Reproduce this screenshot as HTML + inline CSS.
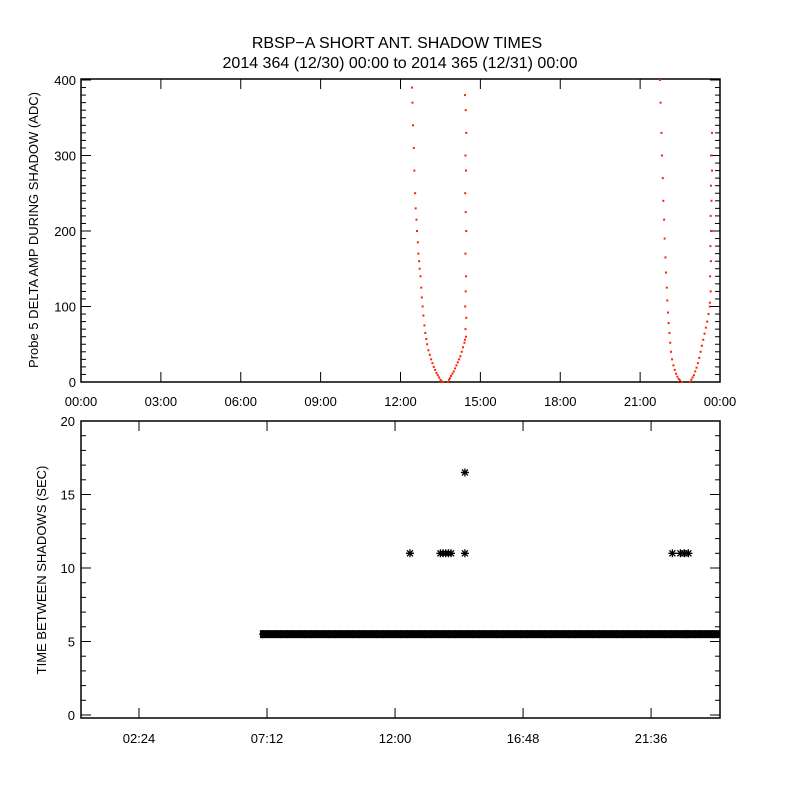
<!DOCTYPE html>
<html><head><meta charset="utf-8"><style>
body{margin:0;background:#fff}
svg text{font-family:"Liberation Sans",sans-serif;fill:#000}
</style></head><body>
<svg id="c" width="800" height="800" xmlns="http://www.w3.org/2000/svg">
<rect width="800" height="800" fill="#fff"/>
<text x="397" y="48" font-size="16" text-anchor="middle">RBSP−A SHORT ANT. SHADOW TIMES</text>
<text x="400" y="68" font-size="16" text-anchor="middle">2014 364 (12/30) 00:00 to 2014 365 (12/31) 00:00</text>
<g id="top"></g><g id="bot"></g>
</svg>
<script>
// ---- top panel data (hour, delta amp ADC) ----
const descA_h=[12.43,12.45,12.47,12.5,12.52,12.55,12.57,12.6,12.62,12.65,12.67,12.7,12.72,12.75,12.78,12.8,12.83,12.86,12.9,12.93,12.97,13.0,13.05,13.1,13.15,13.2,13.25,13.3,13.35,13.4,13.45,13.5,13.55,13.6];
const descA_v=[390,370,340,310,280,250,230,215,200,185,170,160,150,140,125,112,100,88,75,65,57,50,42,36,30,25,20,16,12,9,6,3,1,0];
const ascA_h=[13.78,13.82,13.86,13.9,13.95,14.0,14.05,14.1,14.15,14.2,14.25,14.3,14.35,14.4,14.42];
const ascA_v=[0,3,5,8,11,14,18,22,26,30,34,40,46,52,56];
const scatA_h=[14.42,14.45,14.47,14.44,14.46,14.43,14.45,14.47,14.44,14.46,14.45,14.43,14.47,14.44,14.46];
const scatA_v=[380,360,330,300,280,250,225,200,170,140,120,100,85,70,60];
const descB_h=[21.75,21.77,21.8,21.82,21.85,21.87,21.9,21.92,21.95,21.97,22.0,22.02,22.05,22.07,22.1,22.13,22.16,22.2,22.25,22.3,22.35,22.4,22.45,22.5,22.57];
const descB_v=[400,370,330,300,270,240,215,190,165,145,125,108,92,78,65,52,40,30,22,16,11,7,4,2,0];
const ascB_h=[22.87,22.92,22.97,23.02,23.07,23.12,23.17,23.22,23.27,23.32,23.37,23.42,23.47,23.52,23.57,23.62];
const ascB_v=[0,3,6,9,14,19,25,32,40,48,56,64,72,80,90,100];
const scatB_h=[23.62,23.65,23.63,23.66,23.64,23.67,23.65,23.68,23.66,23.7,23.68,23.7];
const scatB_v=[105,120,140,160,180,200,220,240,260,280,300,330];
// ---- bottom panel data ----
const runStart=[7.05,23.0];
const runEnd=[22.88,24.18];
const runValue=[5.5,5.5];
const outT=[12.56,13.7,13.8,13.9,14.0,14.1,14.62,14.62,22.4,22.7,22.85,23.0];
const outV=[11,11,11,11,11,11,11,16.5,11,11,11,11];
const topYTicks=[0,100,200,300,400];
const topXLabels=["00:00","03:00","06:00","09:00","12:00","15:00","18:00","21:00","00:00"];
const botYTicks=[0,5,10,15,20];
const botXLabels=["02:24","07:12","12:00","16:48","21:36"];
const botXHours=[2.4,7.2,12,16.8,21.6];

const NS="http://www.w3.org/2000/svg";
function el(p,t,a){const e=document.createElementNS(NS,t);for(const k in a)e.setAttribute(k,a[k]);p.appendChild(e);return e;}
const T=document.getElementById('top'),B=document.getElementById('bot');
// top axes
const tL=81,tR=720,tT=79,tB=382;
const tx=h=>tL+(tR-tL)*h/24, ty=v=>382-0.755*v;
let fr=el(T,'rect',{x:tL,y:tT,width:tR-tL,height:tB-tT,fill:'none',stroke:'#000','stroke-width':1.5});

for(let v=0;v<=400;v+=10){const y=ty(v);if(y<tT)continue;const L=v%100===0?10:5;
 el(T,'line',{x1:tL,x2:tL+L,y1:y,y2:y,stroke:'#000'});el(T,'line',{x1:tR,x2:tR-L,y1:y,y2:y,stroke:'#000'});}
topYTicks.forEach(v=>{const t=el(T,'text',{x:tL-5,y:ty(v)+5,'font-size':13,'text-anchor':'end'});t.textContent=v;
 });
topXLabels.forEach((s,i)=>{const x=tx(i*3);el(T,'line',{x1:x,x2:x,y1:tB,y2:tB-10,stroke:'#000'});el(T,'line',{x1:x,x2:x,y1:tT,y2:tT+10,stroke:'#000'});
 const t=el(T,'text',{x:x,y:406,'font-size':13,'text-anchor':'middle'});t.textContent=s;
 });
let yt=el(T,'text',{transform:'translate(38,230) rotate(-90)','font-size':13,'text-anchor':'middle'});yt.textContent='Probe 5 DELTA AMP DURING SHADOW (ADC)';

[[descA_h,descA_v],[ascA_h,ascA_v],[scatA_h,scatA_v],[descB_h,descB_v],[ascB_h,ascB_v],[scatB_h,scatB_v]].forEach(([H,V])=>{
 H.forEach((h,i)=>{const r=el(T,'rect',{x:tx(h)-1,y:ty(V[i])-1,width:2,height:2,fill:'#ff2000'});
 });});
// bottom axes
const bL=81,bR=720,bT=421,bB=718;
const bx=h=>75+26.67*h, by=v=>715-14.7*v;
fr=el(B,'rect',{x:bL,y:bT,width:bR-bL,height:bB-bT,fill:'none',stroke:'#000','stroke-width':1.5});

for(let v=0;v<=20;v++){const y=by(v);const L=v%5===0?10:5;
 el(B,'line',{x1:bL,x2:bL+L,y1:y,y2:y,stroke:'#000'});el(B,'line',{x1:bR,x2:bR-L,y1:y,y2:y,stroke:'#000'});}
botYTicks.forEach(v=>{const t=el(B,'text',{x:bL-6,y:by(v)+5,'font-size':13,'text-anchor':'end'});t.textContent=v;
 });
botXLabels.forEach((s,i)=>{const x=bx(botXHours[i]);el(B,'line',{x1:x,x2:x,y1:bB,y2:bB-10,stroke:'#000'});el(B,'line',{x1:x,x2:x,y1:bT,y2:bT+10,stroke:'#000'});
 const t=el(B,'text',{x:x,y:743,'font-size':13,'text-anchor':'middle'});t.textContent=s;
 });
yt=el(B,'text',{transform:'translate(46,570) rotate(-90)','font-size':13,'text-anchor':'middle'});yt.textContent='TIME BETWEEN SHADOWS (SEC)';

function star(x,y){const g=el(B,'path',{d:`M${x-4},${y}h8M${x},${y-4}v8M${x-3},${y-3}l6,6M${x-3},${y+3}l6,-6`,stroke:'#000','stroke-width':1.3});
 }
runStart.forEach((s,i)=>{const x0=bx(s),x1=Math.min(bx(runEnd[i]),bR-3);
 const band=el(B,'rect',{x:x0-3,y:by(runValue[i])-4,width:x1-x0+6,height:8,fill:'#000'});
 
 for(let x=x0;x<=x1;x+=6)star(x,by(runValue[i]));});
outT.forEach((t,i)=>star(bx(t),by(outV[i])));
</script>
</body></html>
